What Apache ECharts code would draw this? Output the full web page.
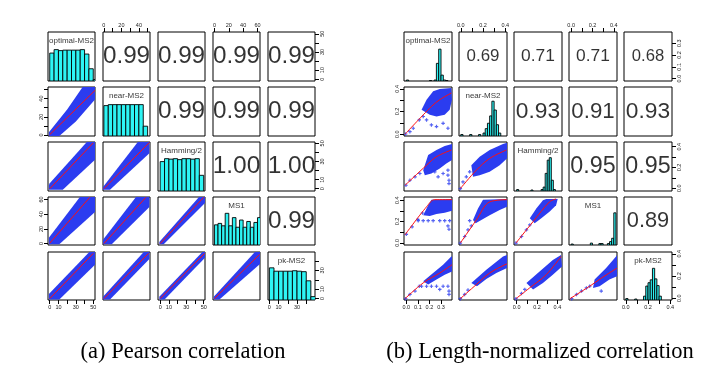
<!DOCTYPE html>
<html><head><meta charset="utf-8">
<script src="https://cdn.jsdelivr.net/npm/echarts@6/dist/echarts.min.js"></script>
<style>html,body{margin:0;padding:0;background:#fff}#c{width:713px;height:378px}</style>
</head><body><div id="c"></div>
<script>
// ---------- names ----------
const varNames = ['optimal-MS2', 'near-MS2', 'Hamming/2', 'MS1', 'pk-MS2'];
const captionA = '(a) Pearson correlation';
const captionB = '(b) Length-normalized correlation';
// correlation pairs order: (1,2),(1,3),(1,4),(1,5),(2,3),(2,4),(2,5),(3,4),(3,5),(4,5)
const pearsonCorr = [0.99, 0.99, 0.99, 0.99, 0.99, 0.99, 0.99, 1.00, 1.00, 0.99];
const lengthCorr = [0.69, 0.71, 0.71, 0.68, 0.93, 0.91, 0.93, 0.95, 0.95, 0.89];

// ---------- axes (scales + tick labels) ----------
const pearsonMin = [-2, -1, -2.5, -2, -1.5];
const pearsonMax = [52, 52.7, 51.5, 63.5, 49.5];
const pearsonTicks = [[0,10,20,30,40,50],[0,10,20,30,40,50],[0,10,20,30,40,50],[0,20,40,60],[0,10,20,30,40]];
const pearsonTickLabels = [[0,10,30,50],[0,20,40],[0,10,30,50],[0,20,40,60],[0,10,30]];
const lengthMin = [-0.02, -0.016, -0.026, -0.02, -0.016];
const lengthMax = [0.395, 0.416, 0.445, 0.43, 0.416];
const lengthTicks = [[0,0.1,0.2,0.3],[0,0.1,0.2,0.3,0.4],[0,0.1,0.2,0.3,0.4],[0,0.1,0.2,0.3,0.4],[0,0.1,0.2,0.3,0.4]];
const lengthTickLabels = [[0,0.1,0.2,0.3],[0,0.2,0.4],[0,0.2,0.4],[0,0.2,0.4],[0,0.2,0.4]];

// ---------- histograms (bin start, bin end, relative height %) ----------
const pearsonHistOpt = [[0,5,57],[5,10,64],[10,15,62],[15,20,63],[20,25,63],[25,30,63],[30,35,63],[35,40,64],[40,45,55],[45,50,25],[50,55,3]];
const pearsonHistNear = [[0,5,62],[5,10,64],[10,15,64],[15,20,64],[20,25,64],[25,30,64],[30,35,64],[35,40,64],[40,45,64],[45,50,20]];
const pearsonHistHam = [[0,5,60],[5,10,66],[10,15,65],[15,20,66],[20,25,64],[25,30,66],[30,35,66],[35,40,65],[40,45,66],[45,50,32]];
const pearsonHistMS1 = [[0,5,42],[5,10,45],[10,15,40],[15,20,66],[20,25,40],[25,30,57],[30,35,37],[35,40,52],[40,45,37],[45,50,49],[50,55,37],[55,60,47],[60,65,57]];
const pearsonHistPk = [[0,5,67],[5,10,60],[10,15,60],[15,20,60],[20,25,60],[25,30,61],[30,35,60],[35,40,59],[40,45,40],[45,50,7]];
const lengthHistOpt = [[0,0.02,2],[0.2,0.22,1],[0.24,0.26,2],[0.26,0.28,36],[0.28,0.30,65],[0.30,0.32,12],[0.32,0.34,2],[0.34,0.36,1]];
const lengthHistNear = [[0,0.02,3],[0.08,0.10,3],[0.16,0.18,3],[0.20,0.22,6],[0.22,0.24,15],[0.24,0.26,26],[0.26,0.28,41],[0.28,0.30,71],[0.30,0.32,53],[0.32,0.34,23],[0.34,0.36,6]];
const lengthHistHam = [[0,0.02,3],[0.14,0.16,2],[0.24,0.26,3],[0.26,0.28,8],[0.28,0.30,36],[0.30,0.32,63],[0.32,0.34,68],[0.34,0.36,22],[0.36,0.38,3]];
const lengthHistMS1 = [[0,0.02,2],[0.18,0.20,4],[0.26,0.28,3],[0.28,0.30,3],[0.34,0.36,3],[0.36,0.38,7],[0.38,0.40,14],[0.40,0.42,67]];
const lengthHistPk = [[0,0.02,3],[0.08,0.10,2],[0.16,0.18,8],[0.18,0.20,29],[0.20,0.22,36],[0.22,0.24,42],[0.24,0.26,66],[0.26,0.28,44],[0.28,0.30,30],[0.30,0.32,8]];

// ---------- Pearson scatter clouds (outline of the dense point cloud) ----------
const pearsonCloud21 = [[-1,-1],[11,-1],[30,15],[52,39],[52,53],[38,53],[20,28],[-1,3]];
const pearsonCloud31 = [[-1,-1],[15,-1],[52,32],[52,53],[44,53],[0,6],[-1,4]];
const pearsonCloud32 = [[-1,-1],[7,-1],[52,39],[52,53],[40,53],[-1,2]];
const pearsonCloud41 = [[-1,-1],[11,-1],[52,43],[52,64],[35,64],[-1,8]];
const pearsonCloud42 = [[-1,-1],[9,-1],[52,50],[52,64],[37,64],[-1,5]];
const pearsonCloud43 = [[-1,-1],[4,-1],[52,56],[52,64],[45,64],[-1,2]];
const pearsonCloud51 = [[-1,-1],[11,-1],[52,36],[52,50],[46,50],[-1,5]];
const pearsonCloud52 = [[-1,-1],[7,-1],[52,42],[52,50],[46,50],[-1,2]];
const pearsonCloud53 = [[-1,-1],[5,-1],[52,44],[52,50],[49,50],[-1,2]];
const pearsonCloud54 = [[-1,-1],[7,-1],[64,37],[64,50],[57,50],[-1,2]];
const pearsonLine21 = [[0,0.5],[52,49]];
const pearsonLine31 = [[0,0],[50,50.5]];
const pearsonLine32 = [[0,0],[52,51]];
const pearsonLine41 = [[0,0.5],[46,63]];
const pearsonLine42 = [[0,0],[48,63]];
const pearsonLine43 = [[0,0],[50,63]];
const pearsonLine51 = [[0,0],[50,48]];
const pearsonLine52 = [[0,0],[51,48]];
const pearsonLine53 = [[0,0],[51,48]];
const pearsonLine54 = [[0,0],[63,47]];

// ---------- Length-normalized clouds, stray points, loess lines ----------
const lengthCloud21 = [[0.132,0.215],[0.175,0.304],[0.232,0.378],[0.289,0.398],[0.389,0.407],[0.395,0.304],[0.375,0.215],[0.332,0.171],[0.261,0.156],[0.203,0.171]];
const lengthPts21 = [[0.146,0.156],[0.175,0.126],[0.217,0.082],[0.261,0.067],[0.318,0.096],[0.36,0.052],[0.112,0.126],[0.06,0.052],[0.031,0.022],[-0.006,0.002]];
const lengthLine21 = [[-0.011,0],[0.217,0.244],[0.289,0.304],[0.389,0.363]];
const lengthCloud31 = [[0.146,0.174],[0.189,0.319],[0.261,0.368],[0.332,0.406],[0.395,0.426],[0.395,0.271],[0.346,0.239],[0.289,0.19],[0.217,0.142],[0.16,0.126]];
const lengthPts31 = [[0.36,0.174],[0.36,0.126],[0.369,0.077],[0.369,0.045],[0.318,0.142],[0.275,0.11],[0.246,0.158],[0.117,0.142],[0.075,0.11],[0.031,0.077],[-0.003,0.029]];
const lengthLine31 = [[-0.011,0.029],[0.175,0.222],[0.26,0.303],[0.39,0.368]];
const lengthCloud32 = [[0.095,0.222],[0.17,0.303],[0.26,0.368],[0.38,0.426],[0.416,0.438],[0.416,0.287],[0.35,0.222],[0.26,0.158],[0.17,0.126],[0.11,0.11]];
const lengthPts32 = [[0.05,0.11],[0.02,0.061],[-0.004,-0.003],[0.08,0.158]];
const lengthLine32 = [[-0.004,-0.003],[0.14,0.174],[0.26,0.287],[0.41,0.368]];
const lengthCloud41 = [[0.146,0.26],[0.189,0.353],[0.217,0.405],[0.395,0.412],[0.395,0.3],[0.332,0.282],[0.261,0.27],[0.203,0.251]];
const lengthPts41 = [[0.103,0.208],[0.146,0.208],[0.189,0.208],[0.232,0.208],[0.289,0.208],[0.332,0.208],[0.375,0.208],[0.36,0.159],[0.369,0.128],[0,0.08],[0.05,0.15],[0.1,0.22],[0.14,0.28]];
const lengthLine41 = [[-0.011,0.076],[0.175,0.338],[0.246,0.405],[0.395,0.405]];
const lengthCloud42 = [[0.11,0.214],[0.155,0.322],[0.2,0.405],[0.416,0.412],[0.416,0.338],[0.35,0.307],[0.26,0.26],[0.185,0.214],[0.134,0.183]];
const lengthPts42 = [[-0.004,-0.002],[0.035,0.06],[0.065,0.122],[0.095,0.159],[0.08,0.208]];
const lengthLine42 = [[-0.004,-0.002],[0.14,0.214],[0.26,0.384],[0.416,0.405]];
const lengthCloud43 = [[0.129,0.23],[0.193,0.322],[0.258,0.399],[0.29,0.412],[0.403,0.412],[0.387,0.353],[0.322,0.291],[0.242,0.23],[0.177,0.183]];
const lengthPts43 = [[-0.007,-0.002],[0.048,0.06],[0.096,0.122],[0.129,0.168]];
const lengthLine43 = [[-0.007,-0.002],[0.161,0.199],[0.322,0.384],[0.387,0.412]];
const lengthCloud51 = [[0.146,0.153],[0.232,0.227],[0.318,0.301],[0.389,0.375],[0.395,0.375],[0.395,0.241],[0.332,0.212],[0.261,0.168],[0.189,0.123]];
const lengthPts51 = [[0.132,0.108],[0.175,0.108],[0.217,0.108],[0.261,0.108],[0.318,0.108],[0.36,0.108],[0.369,0.064],[0.369,0.034],[0.289,0.079],[0.075,0.064],[0.031,0.034],[-0.006,-0.004],[0.112,0.108]];
const lengthLine51 = [[-0.011,-0.004],[0.146,0.138],[0.289,0.227],[0.395,0.301]];
const lengthCloud52 = [[0.095,0.138],[0.23,0.256],[0.38,0.375],[0.416,0.389],[0.416,0.271],[0.32,0.227],[0.23,0.173],[0.146,0.108]];
const lengthPts52 = [[-0.004,-0.004],[0.035,0.034],[0.065,0.073]];
const lengthLine52 = [[-0.004,-0.004],[0.14,0.123],[0.26,0.227],[0.416,0.31]];
const lengthCloud53 = [[0.096,0.138],[0.225,0.241],[0.355,0.345],[0.435,0.389],[0.445,0.286],[0.355,0.212],[0.258,0.138],[0.161,0.079]];
const lengthPts53 = [[-0.007,-0.004],[0.048,0.043],[0.08,0.079]];
const lengthLine53 = [[-0.007,-0.004],[0.129,0.094],[0.29,0.212],[0.435,0.375]];
const lengthCloud54 = [[0.22,0.168],[0.328,0.271],[0.421,0.375],[0.43,0.389],[0.43,0.197],[0.359,0.168],[0.267,0.108],[0.205,0.093]];
const lengthPts54 = [[0.005,-0.004],[0.051,0.034],[0.097,0.064],[0.143,0.093],[0.174,0.108],[0.282,0.064]];
const lengthLine54 = [[-0.011,-0.004],[0.174,0.108],[0.285,0.182],[0.43,0.271]];

// ---------- build ----------
const BLUE = '#2b3cf0', CYAN = '#2ef4f4', RED = '#ff1010';
const SANS = 'Liberation Sans';
const rowsTop = [32, 87, 142, 197, 252];
const rowsH = [49, 49, 49, 48, 48];

const pearson = {
  cols: [48, 103, 158, 213, 268], w: 47,
  min: pearsonMin, max: pearsonMax, ticks: pearsonTicks, labels: pearsonTickLabels,
  fmt: v => String(Math.round(v)), corr: pearsonCorr, smooth: false,
  hists: [pearsonHistOpt, pearsonHistNear, pearsonHistHam, pearsonHistMS1, pearsonHistPk],
  clouds: {21: pearsonCloud21, 31: pearsonCloud31, 32: pearsonCloud32, 41: pearsonCloud41, 42: pearsonCloud42, 43: pearsonCloud43, 51: pearsonCloud51, 52: pearsonCloud52, 53: pearsonCloud53, 54: pearsonCloud54},
  lines: {21: pearsonLine21, 31: pearsonLine31, 32: pearsonLine32, 41: pearsonLine41, 42: pearsonLine42, 43: pearsonLine43, 51: pearsonLine51, 52: pearsonLine52, 53: pearsonLine53, 54: pearsonLine54},
  pts: {}
};
const lengthN = {
  cols: [404, 459, 514, 569, 624], w: 48,
  min: lengthMin, max: lengthMax, ticks: lengthTicks, labels: lengthTickLabels,
  fmt: v => v.toFixed(1), corr: lengthCorr, smooth: 0.35,
  hists: [lengthHistOpt, lengthHistNear, lengthHistHam, lengthHistMS1, lengthHistPk],
  clouds: {21: lengthCloud21, 31: lengthCloud31, 32: lengthCloud32, 41: lengthCloud41, 42: lengthCloud42, 43: lengthCloud43, 51: lengthCloud51, 52: lengthCloud52, 53: lengthCloud53, 54: lengthCloud54},
  lines: {21: lengthLine21, 31: lengthLine31, 32: lengthLine32, 41: lengthLine41, 42: lengthLine42, 43: lengthLine43, 51: lengthLine51, 52: lengthLine52, 53: lengthLine53, 54: lengthLine54},
  pts: {21: lengthPts21, 31: lengthPts31, 32: lengthPts32, 41: lengthPts41, 42: lengthPts42, 43: lengthPts43, 51: lengthPts51, 52: lengthPts52, 53: lengthPts53, 54: lengthPts54}
};

const grids = [], xAxes = [], yAxes = [], series = [];
const PLUS = 'path://M1,0H2V1H3V2H2V3H1V2H0V1H1Z';

function varAxis(M, g, v, show, position, isY) {
  return {
    gridIndex: g, type: 'value', min: M.min[v], max: M.max[v], position: position,
    axisLine: {show: false, onZero: false}, splitLine: {show: false},
    axisTick: {show: show, length: 4, customValues: M.ticks[v], lineStyle: {color: '#000', width: 1}},
    axisLabel: {show: show, customValues: M.labels[v], formatter: M.fmt, fontSize: 5.5, color: '#222',
      fontFamily: SANS, margin: 4, rotate: isY ? 90 : 0}
  };
}

function addMatrix(M) {
  let k = 0;
  const corrIdx = {};
  for (let a = 0; a < 5; a++) for (let b = a + 1; b < 5; b++) corrIdx[a + '_' + b] = k++;
  for (let i = 0; i < 5; i++) {
    for (let j = 0; j < 5; j++) {
      const g = grids.length;
      grids.push({left: M.cols[j], top: rowsTop[i], width: M.w, height: rowsH[i], show: true,
        borderColor: '#000', borderWidth: 1, backgroundColor: 'transparent'});
      const showTop = i === 0 && (j % 2 === 1);
      const showBottom = i === 4 && (j % 2 === 0);
      const showLeft = j === 0 && (i % 2 === 1);
      const showRight = j === 4 && (i % 2 === 0);
      const xi = xAxes.length;
      xAxes.push(varAxis(M, g, j, showTop || showBottom, showTop ? 'top' : 'bottom', false));
      const yi = yAxes.length;
      yAxes.push(varAxis(M, g, i, showLeft || showRight, showRight ? 'right' : 'left', true));
      const xmid = (M.min[j] + M.max[j]) / 2, ymid = (M.min[i] + M.max[i]) / 2;
      if (i < j) {
        const r = M.corr[corrIdx[i + '_' + j]];
        series.push({type: 'scatter', xAxisIndex: xi, yAxisIndex: yi, silent: true, symbolSize: 1,
          itemStyle: {color: 'rgba(0,0,0,0)'}, data: [[xmid, ymid]], z: 5,
          label: {show: true, position: 'inside', formatter: r.toFixed(2), fontSize: 24.5 * r,
            color: '#000', fontFamily: SANS}});
      } else if (i === j) {
        const hyi = yAxes.length;
        yAxes.push({gridIndex: g, type: 'value', min: 0, max: 100, show: false,
          axisLine: {show: false, onZero: false}, splitLine: {show: false}, axisTick: {show: false}, axisLabel: {show: false}});
        series.push({type: 'custom', xAxisIndex: xi, yAxisIndex: hyi, clip: true, silent: true,
          data: M.hists[i], encode: {x: [0, 1], y: 2},
          renderItem: (p, api) => {
            const a = api.coord([api.value(0), 0]);
            const b = api.coord([api.value(1), api.value(2)]);
            return {type: 'rect', shape: {x: a[0], y: b[1], width: b[0] - a[0], height: a[1] - b[1]},
              style: {fill: CYAN, stroke: '#000', lineWidth: 0.9}};
          }});
        series.push({type: 'scatter', xAxisIndex: xi, yAxisIndex: hyi, silent: true, symbolSize: 1,
          itemStyle: {color: 'rgba(0,0,0,0)'}, data: [[xmid, 82]], z: 6,
          label: {show: true, position: 'inside', formatter: varNames[i], fontSize: 8,
            color: '#000', fontFamily: SANS}});
      } else {
        const key = (i + 1) * 10 + (j + 1);
        const cloud = M.clouds[key];
        series.push({type: 'custom', xAxisIndex: xi, yAxisIndex: yi, clip: true, silent: true,
          data: cloud, encode: {x: 0, y: 1},
          renderItem: (p, api) => {
            if (p.dataIndex !== 0) return null;
            const pts = cloud.map(c => api.coord(c));
            return {type: 'polygon', shape: {points: pts}, style: {fill: BLUE}};
          }});
        if (M.pts[key]) {
          series.push({type: 'scatter', xAxisIndex: xi, yAxisIndex: yi, silent: true, symbol: PLUS,
            symbolSize: 3.5, itemStyle: {color: BLUE}, data: M.pts[key], clip: true});
        }
        series.push({type: 'line', xAxisIndex: xi, yAxisIndex: yi, silent: true, data: M.lines[key],
          showSymbol: false, smooth: M.smooth, clip: true, z: 4,
          lineStyle: {color: RED, width: 1}});
      }
    }
  }
}
addMatrix(pearson);
addMatrix(lengthN);

const chart = echarts.init(document.getElementById('c'), null, {renderer: 'canvas'});
chart.setOption({
  animation: false,
  backgroundColor: '#fff',
  grid: grids, xAxis: xAxes, yAxis: yAxes, series: series,
  graphic: [
    {type: 'text', x: 183, y: 352, style: {text: captionA, font: '22.5px "Liberation Serif"', fill: '#000',
      textAlign: 'center', textVerticalAlign: 'middle', align: 'center', verticalAlign: 'middle'}},
    {type: 'text', x: 540, y: 352, style: {text: captionB, font: '22.5px "Liberation Serif"', fill: '#000',
      textAlign: 'center', textVerticalAlign: 'middle', align: 'center', verticalAlign: 'middle'}}
  ]
});
</script></body></html>
